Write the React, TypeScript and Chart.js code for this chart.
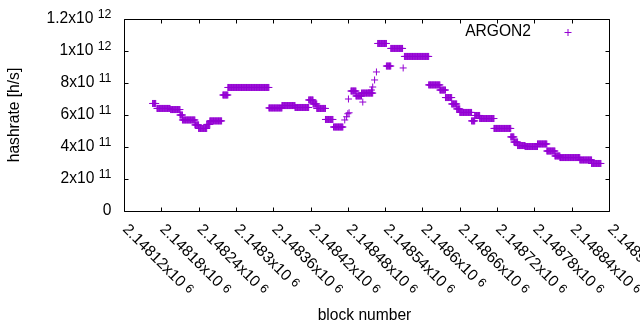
import { useEffect, useRef } from "react";
import { Chart, registerables } from "chart.js";

Chart.register(...registerables);

// Constant-hashrate runs (first block, last block, hashrate in h/s)
const runStart = [
  2148166, 2148173, 2148195, 2148210, 2148214, 2148234, 2148240, 2148253, 2148258, 2148279,
  2148287, 2148353, 2148374, 2148395, 2148417, 2148424, 2148430, 2148444, 2148457, 2148485,
  2148493, 2148502, 2148528, 2148542, 2148549, 2148571, 2148610, 2148628, 2148637, 2148647,
  2148655, 2148660, 2148679, 2148684, 2148692, 2148715, 2148742, 2148747, 2148753, 2148765,
  2148785, 2148800, 2148813, 2148821, 2148853, 2148872,
];
const runEnd = [
  2148171, 2148194, 2148210, 2148214, 2148234, 2148240, 2148253, 2148258, 2148277, 2148287,
  2148353, 2148374, 2148395, 2148417, 2148424, 2148430, 2148444, 2148456, 2148472, 2148493,
  2148502, 2148520, 2148542, 2148549, 2148568, 2148610, 2148628, 2148637, 2148647, 2148655,
  2148660, 2148679, 2148684, 2148692, 2148715, 2148742, 2148747, 2148753, 2148765, 2148785,
  2148800, 2148813, 2148821, 2148853, 2148872, 2148887,
];
const runValue = [
  6.72e11, 6.41e11, 6.34e11, 6.0e11, 5.69e11, 5.38e11, 5.16e11, 5.41e11, 5.63e11, 7.25e11,
  7.72e11, 6.44e11, 6.59e11, 6.47e11, 6.94e11, 6.69e11, 6.41e11, 5.72e11, 5.25e11, 7.5e11,
  7.19e11, 7.37e11, 1.047e12, 9.06e11, 1.016e12, 9.66e11, 7.88e11, 7.56e11, 7.09e11, 6.69e11,
  6.38e11, 6.16e11, 5.63e11, 5.97e11, 5.78e11, 5.16e11, 4.63e11, 4.31e11, 4.09e11, 4.03e11,
  4.19e11, 3.75e11, 3.44e11, 3.34e11, 3.19e11, 2.97e11,
];
// Isolated blocks
const singleBlock = [2148475, 2148478, 2148480, 2148482, 2148481, 2148504, 2148518, 2148520, 2148523, 2148526, 2148569];
const singleValue = [5.69e11, 5.89e11, 6.08e11, 6.14e11, 7.0e11, 6.81e11, 7.56e11, 7.75e11, 8.19e11, 8.69e11, 8.94e11];

const xTickValues = [
  2148120, 2148180, 2148240, 2148300, 2148360, 2148420, 2148480, 2148540, 2148600, 2148660,
  2148720, 2148780, 2148840, 2148900,
];
const xTickLabels = [
  "2.14812x10", "2.14818x10", "2.14824x10", "2.1483x10", "2.14836x10", "2.14842x10", "2.14848x10",
  "2.14854x10", "2.1486x10", "2.14866x10", "2.14872x10", "2.14878x10", "2.14884x10", "2.1489x10",
];
const xTickExp = "6";
const yTickValues = [0, 2e11, 4e11, 6e11, 8e11, 1e12, 1.2e12];
const yTickLabels = ["0", "2x10", "4x10", "6x10", "8x10", "1x10", "1.2x10"];
const yTickExps = ["", "11", "11", "11", "11", "12", "12"];

const seriesName = "ARGON2";
const xTitle = "block number";
const yTitle = "hashrate [h/s]";

const COLOR = "#9400d3";
const FONT = "Liberation Sans, Arial, Helvetica, sans-serif";
const MAIN = `15.6px ${FONT}`;
const SUP = `12.4px ${FONT}`;

function buildPoints() {
  const pts: { x: number; y: number }[] = [];
  for (let i = 0; i < runStart.length; i++) {
    for (let b = runStart[i]; b <= runEnd[i]; b++) pts.push({ x: b, y: runValue[i] });
  }
  for (let i = 0; i < singleBlock.length; i++) pts.push({ x: singleBlock[i], y: singleValue[i] });
  return pts;
}

const framePlugin = {
  id: "gnuplotFrame",
  afterDraw(chart: any) {
    const ctx: CanvasRenderingContext2D = chart.ctx;
    const xs = chart.scales.x;
    const ys = chart.scales.y;
    const L = Math.round(chart.chartArea.left);
    const R = Math.round(chart.chartArea.right);
    const T = Math.round(chart.chartArea.top);
    const B = Math.round(chart.chartArea.bottom);
    ctx.save();
    ctx.strokeStyle = "#000";
    ctx.lineWidth = 1;
    ctx.beginPath();
    ctx.rect(L + 0.5, T + 0.5, R - L, B - T);
    // ticks (inward, mirrored)
    const tl = 4;
    xTickValues.forEach((v) => {
      const px = Math.round(xs.getPixelForValue(v)) + 0.5;
      ctx.moveTo(px, B + 0.5);
      ctx.lineTo(px, B + 0.5 - tl);
      ctx.moveTo(px, T + 0.5);
      ctx.lineTo(px, T + 0.5 + tl);
    });
    yTickValues.forEach((v) => {
      const py = Math.round(ys.getPixelForValue(v)) + 0.5;
      ctx.moveTo(L + 0.5, py);
      ctx.lineTo(L + 0.5 + tl, py);
      ctx.moveTo(R + 0.5, py);
      ctx.lineTo(R + 0.5 - tl, py);
    });
    ctx.stroke();

    ctx.fillStyle = "#000";
    // y tick labels
    const yRight = 111.5;
    yTickValues.forEach((v, i) => {
      const py = ys.getPixelForValue(v);
      ctx.textBaseline = "middle";
      ctx.textAlign = "right";
      let xr = yRight;
      if (yTickExps[i]) {
        ctx.font = SUP;
        ctx.fillText(yTickExps[i], xr, py - 4);
        xr -= ctx.measureText(yTickExps[i]).width;
        ctx.font = MAIN;
        xr -= ctx.measureText(" ").width;
      }
      ctx.font = MAIN;
      ctx.fillText(yTickLabels[i], xr, py);
    });
    // x tick labels (rotated -45 deg, reading downward to the right)
    xTickValues.forEach((v, i) => {
      const px = xs.getPixelForValue(v);
      ctx.save();
      ctx.translate(px + 1, B + 16);
      ctx.rotate(Math.PI / 4);
      ctx.textAlign = "left";
      ctx.textBaseline = "middle";
      ctx.font = MAIN;
      ctx.fillText(xTickLabels[i], 0, 0);
      const w = ctx.measureText(xTickLabels[i] + " ").width;
      ctx.font = SUP;
      ctx.fillText(xTickExp, w, -1.5);
      ctx.restore();
    });
    // axis titles
    ctx.font = MAIN;
    ctx.textAlign = "center";
    ctx.textBaseline = "middle";
    ctx.fillText(xTitle, (L + R) / 2 - 2, 316);
    ctx.save();
    ctx.translate(15, (T + B) / 2);
    ctx.rotate(-Math.PI / 2);
    ctx.fillText(yTitle, 0, 0);
    ctx.restore();
    // legend
    ctx.textAlign = "right";
    ctx.fillText(seriesName, 531, 32);
    ctx.strokeStyle = COLOR;
    ctx.beginPath();
    ctx.moveTo(564.5, 32.5);
    ctx.lineTo(571.5, 32.5);
    ctx.moveTo(568, 29);
    ctx.lineTo(568, 36);
    ctx.stroke();
    ctx.restore();
  },
};

export default function App() {
  const ref = useRef<HTMLCanvasElement | null>(null);
  useEffect(() => {
    if (!ref.current) return;
    const chart = new Chart(ref.current, {
      type: "scatter",
      data: {
        datasets: [
          {
            label: seriesName,
            data: buildPoints(),
            pointStyle: "cross",
            pointRadius: 3.5,
            pointHoverRadius: 3.5,
            borderWidth: 1,
            borderColor: COLOR,
            backgroundColor: COLOR,
            showLine: false,
          },
        ],
      },
      options: {
        responsive: false,
        animation: false,
        devicePixelRatio: 1,
        layout: { padding: { left: 124, right: 31, top: 19, bottom: 119 } },
        plugins: { legend: { display: false }, tooltip: { enabled: false } },
        events: [],
        scales: {
          x: { type: "linear", min: 2148120, max: 2148900, display: false },
          y: { type: "linear", min: 0, max: 1.2e12, display: false },
        },
      },
      plugins: [framePlugin],
    });
    return () => chart.destroy();
  }, []);
  return (
    <div style={{ position: "fixed", left: 0, top: 0, width: 640, height: 330, background: "#fff" }}>
      <canvas ref={ref} width={640} height={330} style={{ width: 640, height: 330 }} />
    </div>
  );
}
